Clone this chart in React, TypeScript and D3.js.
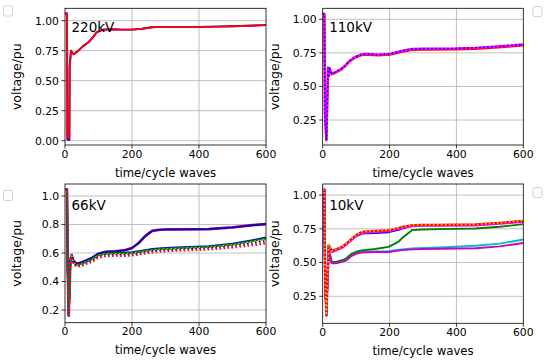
import React from "react";
import * as d3 from "d3";

// ---------- DATA ----------
const xTicks = [0, 200, 400, 600];

// 220kV
const t220 = [0, 6, 7, 13, 14, 18, 22, 26, 40, 55, 70, 80, 95, 115, 140, 170, 200, 230, 260, 280, 350, 400, 450, 500, 550, 600];
const v220Blue = [1.06, 1.06, 0.01, 0.005, 0.62, 0.75, 0.73, 0.72, 0.75, 0.79, 0.82, 0.85, 0.905, 0.925, 0.928, 0.925, 0.925, 0.933, 0.945, 0.948, 0.948, 0.948, 0.95, 0.953, 0.958, 0.963];
const v220Red = [1.06, 1.06, 0.025, 0.02, 0.62, 0.75, 0.73, 0.72, 0.75, 0.79, 0.82, 0.85, 0.905, 0.925, 0.928, 0.925, 0.925, 0.933, 0.945, 0.948, 0.948, 0.948, 0.95, 0.953, 0.958, 0.963];
const yTicks220 = [0, 0.25, 0.5, 0.75, 1.0];

// 110kV
const t110 = [0, 5, 7, 11, 16, 18, 21, 27, 40, 55, 67, 80, 97, 115, 130, 166, 201, 236, 266, 300, 396, 456, 535, 600];
const v110Red = [1.04, 1.04, 0.28, 0.1, 0.635, 0.575, 0.63, 0.59, 0.605, 0.625, 0.65, 0.685, 0.715, 0.733, 0.737, 0.732, 0.737, 0.758, 0.773, 0.775, 0.776, 0.78, 0.793, 0.806];
const v110Magenta = [1.04, 1.04, 0.28, 0.1, 0.64, 0.58, 0.635, 0.595, 0.61, 0.63, 0.655, 0.69, 0.72, 0.738, 0.742, 0.737, 0.742, 0.765, 0.78, 0.782, 0.783, 0.788, 0.8, 0.813];
const v110Blue = [1.04, 1.04, 0.28, 0.1, 0.64, 0.58, 0.635, 0.595, 0.61, 0.63, 0.655, 0.69, 0.72, 0.738, 0.742, 0.737, 0.742, 0.765, 0.78, 0.782, 0.783, 0.788, 0.8, 0.813];
const yTicks110 = [0.25, 0.5, 0.75, 1.0];

// 66kV
const t66 = [0, 6, 8, 11, 13, 16, 20, 25, 35, 50, 65, 80, 100, 120, 150, 180, 200, 220, 240, 260, 280, 300, 350, 430, 500, 560, 600];
const v66Magenta = [1.045, 1.045, 0.5, 0.16, 0.3, 0.55, 0.585, 0.545, 0.525, 0.535, 0.55, 0.565, 0.595, 0.608, 0.612, 0.62, 0.635, 0.67, 0.72, 0.755, 0.762, 0.765, 0.766, 0.768, 0.78, 0.795, 0.803];
const v66Navy = [1.045, 1.045, 0.5, 0.16, 0.3, 0.55, 0.585, 0.545, 0.525, 0.535, 0.55, 0.565, 0.595, 0.608, 0.612, 0.62, 0.635, 0.67, 0.72, 0.755, 0.762, 0.765, 0.766, 0.768, 0.78, 0.795, 0.803];
const v66Blue = [1.045, 1.045, 0.5, 0.16, 0.3, 0.55, 0.585, 0.54, 0.52, 0.53, 0.545, 0.56, 0.59, 0.6, 0.603, 0.602, 0.605, 0.612, 0.62, 0.628, 0.632, 0.635, 0.64, 0.648, 0.665, 0.69, 0.71];
const v66Green = [1.045, 1.045, 0.5, 0.16, 0.3, 0.55, 0.58, 0.535, 0.515, 0.525, 0.54, 0.555, 0.585, 0.595, 0.598, 0.597, 0.6, 0.607, 0.615, 0.622, 0.627, 0.63, 0.635, 0.643, 0.66, 0.683, 0.702];
const v66Yellow = [1.045, 1.045, 0.5, 0.16, 0.3, 0.55, 0.578, 0.532, 0.512, 0.52, 0.535, 0.55, 0.58, 0.59, 0.593, 0.592, 0.595, 0.602, 0.61, 0.617, 0.622, 0.625, 0.63, 0.638, 0.655, 0.677, 0.694];
const v66Black = [1.045, 1.045, 0.5, 0.16, 0.3, 0.55, 0.575, 0.53, 0.51, 0.517, 0.532, 0.546, 0.576, 0.586, 0.589, 0.588, 0.591, 0.598, 0.606, 0.613, 0.618, 0.621, 0.626, 0.634, 0.65, 0.67, 0.686];
const v66Magenta2 = [1.045, 1.045, 0.5, 0.16, 0.3, 0.55, 0.572, 0.525, 0.505, 0.512, 0.527, 0.54, 0.57, 0.58, 0.583, 0.582, 0.585, 0.592, 0.6, 0.607, 0.612, 0.615, 0.62, 0.627, 0.642, 0.66, 0.674];
const v66Red = [1.045, 1.045, 0.5, 0.16, 0.3, 0.55, 0.57, 0.522, 0.502, 0.508, 0.523, 0.536, 0.566, 0.576, 0.579, 0.578, 0.581, 0.588, 0.596, 0.603, 0.608, 0.611, 0.616, 0.623, 0.637, 0.653, 0.666];
const yTicks66 = [0.2, 0.4, 0.6, 0.8, 1.0];

// 10kV
const t10 = [0, 5, 7, 11, 14, 18, 22, 27, 40, 57, 70, 87, 100, 117, 157, 197, 227, 237, 267, 297, 350, 457, 530, 600];
const v10Red = [1.04, 1.04, 0.4, 0.11, 0.35, 0.63, 0.61, 0.585, 0.6, 0.616, 0.64, 0.678, 0.705, 0.728, 0.735, 0.74, 0.757, 0.765, 0.777, 0.78, 0.781, 0.783, 0.795, 0.81];
const v10Magenta = [1.04, 1.04, 0.4, 0.11, 0.35, 0.625, 0.605, 0.578, 0.593, 0.609, 0.633, 0.671, 0.698, 0.721, 0.728, 0.733, 0.75, 0.758, 0.771, 0.774, 0.775, 0.777, 0.789, 0.804];
const v10Blue = [1.04, 1.04, 0.4, 0.11, 0.35, 0.63, 0.61, 0.585, 0.6, 0.614, 0.636, 0.67, 0.695, 0.715, 0.718, 0.725, 0.742, 0.752, 0.772, 0.776, 0.777, 0.779, 0.79, 0.803];
const v10Yellow = [1.04, 1.04, 0.4, 0.11, 0.35, 0.63, 0.61, 0.585, 0.6, 0.616, 0.64, 0.678, 0.705, 0.728, 0.735, 0.74, 0.757, 0.765, 0.777, 0.78, 0.781, 0.783, 0.795, 0.81];
const v10Green = [1.04, 1.04, 0.4, 0.11, 0.35, 0.58, 0.56, 0.505, 0.505, 0.517, 0.53, 0.567, 0.58, 0.59, 0.6, 0.616, 0.655, 0.68, 0.74, 0.745, 0.748, 0.752, 0.765, 0.785];
const v10Cyan = [1.04, 1.04, 0.4, 0.11, 0.35, 0.578, 0.555, 0.5, 0.5, 0.51, 0.52, 0.555, 0.57, 0.58, 0.582, 0.585, 0.595, 0.598, 0.604, 0.608, 0.612, 0.624, 0.64, 0.671];
const v10Magenta2 = [1.04, 1.04, 0.4, 0.11, 0.35, 0.575, 0.55, 0.495, 0.495, 0.505, 0.515, 0.55, 0.565, 0.575, 0.578, 0.578, 0.588, 0.592, 0.598, 0.6, 0.602, 0.606, 0.62, 0.645];
const yTicks10 = [0.25, 0.5, 0.75, 1.0];

// ---------- CHART ----------
type Series = { v: number[]; color: string; width: number; dash?: string };

const FONT = "DejaVu Sans, sans-serif";

function Panel(props: {
  x0: number; x1: number; y0: number; y1: number;
  yDomain: [number, number]; yTicks: number[]; fmt: string;
  t: number[]; series: Series[]; label: string; labelDy: number;
}) {
  const { x0, x1, y0, y1, yDomain, yTicks, fmt, t, series, label, labelDy } = props;
  const xs = d3.scaleLinear().domain([0, 600]).range([x0, x1]);
  const ys = d3.scaleLinear().domain(yDomain).range([y1, y0]);
  const f = d3.format(fmt);
  const line = d3.line<number>().x((_, i) => xs(t[i])).y((d) => ys(d));
  const clipId = "clip" + label;
  return (
    <g>
      <defs>
        <clipPath id={clipId}>
          <rect x={x0} y={y0} width={x1 - x0} height={y1 - y0} />
        </clipPath>
      </defs>
      {xTicks.slice(1, 3).map((d) => (
        <line key={"gx" + d} x1={xs(d)} x2={xs(d)} y1={y0} y2={y1} stroke="#b0b0b0" strokeWidth={0.8} />
      ))}
      {yTicks.map((d) => (
        <line key={"gy" + d} x1={x0} x2={x1} y1={ys(d)} y2={ys(d)} stroke="#b0b0b0" strokeWidth={0.8} />
      ))}
      <g clipPath={`url(#${clipId})`}>
        {series.map((s, i) => (
          <path key={i} d={line(s.v) || ""} fill="none" stroke={s.color} strokeWidth={s.width}
            strokeDasharray={s.dash} strokeLinejoin="round" />
        ))}
      </g>
      <rect x={x0} y={y0} width={x1 - x0} height={y1 - y0} fill="none" stroke="#000" strokeWidth={0.8} />
      {xTicks.map((d) => (
        <g key={"tx" + d}>
          <line x1={xs(d)} x2={xs(d)} y1={y1} y2={y1 + 3.5} stroke="#000" strokeWidth={0.8} />
          <text x={xs(d)} y={y1 + 12.5} textAnchor="middle" fontSize={10.8} fontFamily={FONT} fill="#000">{d}</text>
        </g>
      ))}
      {yTicks.map((d) => (
        <g key={"ty" + d}>
          <line x1={x0 - 3.5} x2={x0} y1={ys(d)} y2={ys(d)} stroke="#000" strokeWidth={0.8} />
          <text x={x0 - 6} y={ys(d)} dy="0.36em" textAnchor="end" fontSize={10.8} fontFamily={FONT} fill="#000">{f(d)}</text>
        </g>
      ))}
      <text x={(x0 + x1) / 2} y={y1 + 31.5} textAnchor="middle" fontSize={11.7} fontFamily={FONT} fill="#000">time/cycle waves</text>
      <text transform={`translate(${x0 - 44},${(y0 + y1) / 2}) rotate(-90)`} textAnchor="middle" fontSize={12.5} fontFamily={FONT} fill="#000">voltage/pu</text>
      <text x={x0 + 6.5} y={y0 + labelDy} fontSize={13.5} fontFamily={FONT} fill="#000">{label}</text>
    </g>
  );
}

function LegendBox(props: { x: number; y: number }) {
  return <rect x={props.x} y={props.y} width={9} height={10} rx={2} fill="#fff" stroke="#d0d0d0" strokeWidth={1} />;
}

export default function App() {
  const dot = "1.5,2.5";
  return (
    <svg width={550} height={363} style={{ position: "absolute", left: 0, top: 0, background: "#fff" }}>
      <rect width={550} height={363} fill="#fff" />
      <Panel x0={65} x1={266} y0={8.3} y1={145} yDomain={[-0.036, 1.103]} yTicks={yTicks220} fmt=".2f"
        t={t220} label="220kV" labelDy={23.5}
        series={[
          { v: v220Blue, color: "#0000ff", width: 1.9 },
          { v: v220Red, color: "#ff0000", width: 1.9 },
        ]} />
      <Panel x0={322.7} x1={523.3} y0={8.3} y1={145} yDomain={[0.064, 1.082]} yTicks={yTicks110} fmt=".2f"
        t={t110} label="110kV" labelDy={23.5}
        series={[
          { v: v110Red, color: "#ff0000", width: 2.3 },
          { v: v110Magenta, color: "#ff00ff", width: 2.3 },
          { v: v110Blue, color: "#0000ff", width: 1.6, dash: dot },
        ]} />
      <Panel x0={65} x1={266} y0={184} y1={322.7} yDomain={[0.111, 1.084]} yTicks={yTicks66} fmt=".1f"
        t={t66} label="66kV" labelDy={26}
        series={[
          { v: v66Magenta, color: "#cc00cc", width: 2.7 },
          { v: v66Navy, color: "#10108f", width: 1.9 },
          { v: v66Blue, color: "#0000ff", width: 1.9 },
          { v: v66Green, color: "#008000", width: 1.9 },
          { v: v66Yellow, color: "#e0e000", width: 1.9, dash: dot },
          { v: v66Black, color: "#000000", width: 1.7, dash: dot },
          { v: v66Magenta2, color: "#ff00ff", width: 1.7, dash: dot },
          { v: v66Red, color: "#ff0000", width: 1.7, dash: dot },
        ]} />
      <Panel x0={322.7} x1={523.3} y0={184} y1={323.3} yDomain={[0.05, 1.082]} yTicks={yTicks10} fmt=".2f"
        t={t10} label="10kV" labelDy={26}
        series={[
          { v: v10Cyan, color: "#00c0c0", width: 1.9 },
          { v: v10Green, color: "#008000", width: 1.9 },
          { v: v10Magenta2, color: "#cc00cc", width: 1.9 },
          { v: v10Blue, color: "#0000ff", width: 1.9 },
          { v: v10Magenta, color: "#ff00ff", width: 2.5 },
          { v: v10Red, color: "#ff0000", width: 2.0 },
          { v: v10Yellow, color: "#d8d800", width: 1.6, dash: dot },
        ]} />
      <LegendBox x={3.5} y={6} />
      <LegendBox x={533} y={6.5} />
      <LegendBox x={3.5} y={190.5} />
      <LegendBox x={533} y={187.5} />
    </svg>
  );
}
